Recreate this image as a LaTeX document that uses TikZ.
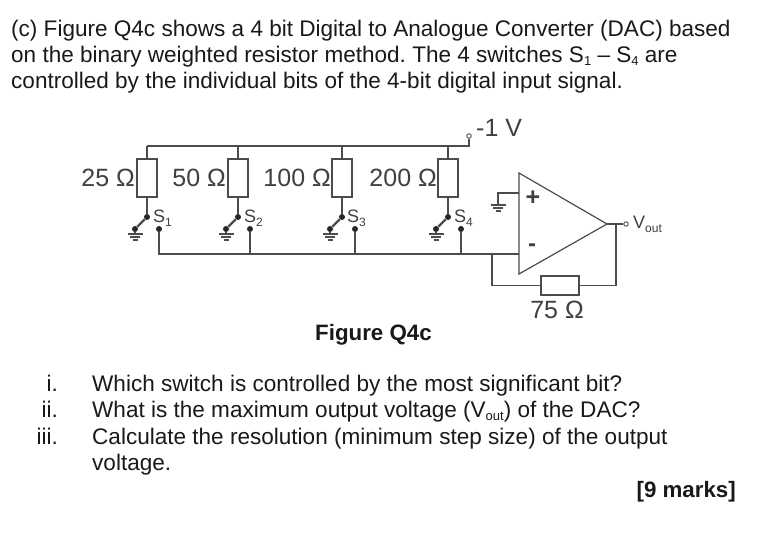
\documentclass[tikz,border=0pt]{standalone}
\usepackage{fontspec}
\setmainfont{Liberation Sans}
\frenchspacing
\newcommand{\lowsub}[1]{\raisebox{-4pt}{\fontsize{12}{12}\selectfont #1}}
\newcommand{\txtsub}[1]{\raisebox{-3pt}{\fontsize{13}{13}\selectfont #1}}
\tikzset{
  wire/.style={line width=1.2pt,color=black!70},
  res/.style={draw,line width=1.2pt,color=black!70,fill=white,minimum width=20pt,minimum height=38pt,inner sep=0pt},
  resh/.style={draw,line width=1.2pt,color=black!70,fill=white,minimum width=38pt,minimum height=19pt,inner sep=0pt},
  dot/.style={circle,fill=black!85,minimum size=6pt,inner sep=0pt},
  term/.style={circle,draw,line width=0.9pt,color=black!70,fill=white,minimum size=4.5pt,inner sep=0pt},
  para/.style={anchor=base west,inner sep=0pt,text=black!90,font=\fontsize{22.55}{26}\selectfont},
  num/.style={anchor=base east,inner sep=0pt,text=black!90,font=\fontsize{22.55}{26}\selectfont},
  lab/.style={inner sep=0pt,text=black!75,font=\fontsize{25}{26}\selectfont},
  swlab/.style={anchor=base west,inner sep=0pt,text=black!75,font=\fontsize{18}{18}\selectfont},
  gnd/.pic={
    \draw [wire] (-7.5,0)--(7.5,0);
    \draw [wire] (-5,3)--(5,3);
    \draw [wire] (-2.5,6)--(2.5,6);
  }
}
\begin{document}
\begin{tikzpicture}[x=1pt,y=-1pt]
\useasboundingbox [fill=white] (0,0) rectangle (772,537);
% question text
\node [para] (t1) at (11,37) {(c) Figure Q4c shows a 4 bit Digital to Analogue Converter (DAC) based};
\node [para] (t2) at (11,63) {on the binary weighted resistor method. The 4 switches S\txtsub{1} -- S\txtsub{4} are};
\node [para] (t3) at (11,89) {controlled by the individual bits of the 4-bit digital input signal.};
% supply rail
\node [term] (vref) at (469,136) { };
\node [lab,anchor=base west] (vreflab) at (476,137) {-1 V};
\coordinate (railr) at (469,146);
\coordinate (raill) at (147,146);
\draw [wire] (vref)--(railr)--(raill);
% resistors
\node [res] (r1) at (147,178) { };
\node [res] (r2) at (238,178) { };
\node [res] (r3) at (342,178) { };
\node [res] (r4) at (448,178) { };
\node [lab,anchor=base east] (r1lab) at (135,187) {25 Ω};
\node [lab,anchor=base east] (r2lab) at (226,187) {50 Ω};
\node [lab,anchor=base east] (r3lab) at (331,187) {100 Ω};
\node [lab,anchor=base east] (r4lab) at (437,187) {200 Ω};
\draw [wire] (raill)--(r1.north);
\draw [wire] (r2.north|-raill)--(r2.north);
\draw [wire] (r3.north|-raill)--(r3.north);
\draw [wire] (r4.north|-raill)--(r4.north);
% switches
\node [dot] (a1) at (147,217) { };
\node [dot] (g1) at (135,229) { };
\node [dot] (s1) at (159,229) { };
\node [dot] (a2) at (238,217) { };
\node [dot] (g2) at (226,229) { };
\node [dot] (s2) at (250,229) { };
\node [dot] (a3) at (342,217) { };
\node [dot] (g3) at (330,229) { };
\node [dot] (s3) at (355,229) { };
\node [dot] (a4) at (448,217) { };
\node [dot] (g4) at (436,229) { };
\node [dot] (s4) at (461,229) { };
\draw [wire] (r1.south)--(a1);
\draw [wire] (r2.south)--(a2);
\draw [wire] (r3.south)--(a3);
\draw [wire] (r4.south)--(a4);
\draw [wire,line width=2.2pt] (a1)--(g1);
\draw [wire,line width=2.2pt] (a2)--(g2);
\draw [wire,line width=2.2pt] (a3)--(g3);
\draw [wire,line width=2.2pt] (a4)--(g4);
\node [swlab] (s1lab) at (153,223) {S\lowsub{1}};
\node [swlab] (s2lab) at (244,223) {S\lowsub{2}};
\node [swlab] (s3lab) at (347,223) {S\lowsub{3}};
\node [swlab] (s4lab) at (454,223) {S\lowsub{4}};
\draw [wire] (g1)--++(0,5) pic {gnd};
\draw [wire] (g2)--++(0,5) pic {gnd};
\draw [wire] (g3)--++(0,5) pic {gnd};
\draw [wire] (g4)--++(0,5) pic {gnd};
% summing wire
\coordinate (busl) at (159,254);
\coordinate (join) at (492,254);
\coordinate (ampm) at (519,254);
\draw [wire] (s1)--(busl)--(join)--(ampm);
\draw [wire] (s2)--(s2|-busl);
\draw [wire] (s3)--(s3|-busl);
\draw [wire] (s4)--(s4|-busl);
% amplifier
\coordinate (ampa) at (519,173);
\coordinate (ampb) at (519,274);
\coordinate (ampo) at (607,224);
\coordinate (ampp) at (519,193);
\coordinate (gndp) at (498,193);
\draw [wire] (ampa)--(ampb)--(ampo)--cycle;
\draw [wire] (ampp)--(gndp)--(498,205) pic {gnd};
\node [text=black!75,font=\bfseries\fontsize{25}{26}\selectfont] (plus) at (533,198) {+};
\node [text=black!75,font=\bfseries\fontsize{24}{26}\selectfont] (minus) at (532,248) {-};
% feedback
\node [resh] (rf) at (560,285.5) { };
\node [lab] (rflab) at (557,310) {75 Ω};
\coordinate (fbl) at (492,285.5);
\coordinate (fbr) at (616,285.5);
\coordinate (fbo) at (616,224);
\node [term] (vout) at (626,224) { };
\draw [wire] (join)--(fbl)--(rf.west);
\draw [wire] (rf.east)--(fbr)--(fbo);
\draw [wire] (ampo)--(vout);
\node [swlab] (voutlab) at (633,229) {V\lowsub{out}};
% caption and list
\node [para,font=\bfseries\fontsize{22.3}{26}\selectfont] (cap) at (315,341) {Figure Q4c};
\node [num] (n1) at (58,392) {i.};
\node [num] (n2) at (58,418) {ii.};
\node [num] (n3) at (58,445) {iii.};
\node [para] (q1) at (92,392) {Which switch is controlled by the most significant bit?};
\node [para] (q2) at (92,418) {What is the maximum output voltage (V\txtsub{out}) of the DAC?};
\node [para] (q3) at (92,445) {Calculate the resolution (minimum step size) of the output};
\node [para] (q4) at (92,471) {voltage.};
\node [num,font=\bfseries\fontsize{22.3}{26}\selectfont] (marks) at (736,497) {[9 marks]};
\end{tikzpicture}
\end{document}
